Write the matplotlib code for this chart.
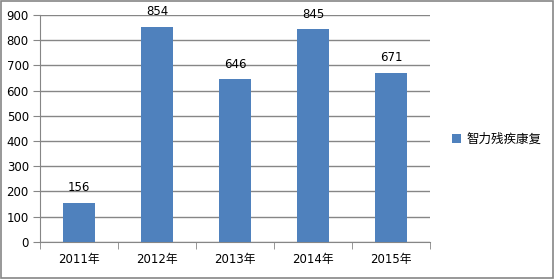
import matplotlib.pyplot as plt
import numpy as np

plt.rcParams['font.family'] = ['DejaVu Sans', 'Noto Sans CJK SC']

# 数据
years = ["2011年", "2012年", "2013年", "2014年", "2015年"]
values = [156, 854, 646, 845, 671]
series_name = "智力残疾康复"

bar_color = "#4F81BD"
grid_color = "#868686"

fig = plt.figure(figsize=(5.55, 2.79), dpi=100)
ax = fig.add_axes([0.072, 0.133, 0.703, 0.813])

x = np.arange(len(years))
bars = ax.bar(x, values, width=0.41, color=bar_color, label=series_name, zorder=3)

# 数据标签
for xi, v in zip(x, values):
    ax.annotate(str(v), (xi, v), xytext=(0, 6), textcoords="offset points",
                ha="center", va="bottom", fontsize=8.5, zorder=4)

ax.set_xlim(-0.5, len(years) - 0.5)
ax.set_ylim(0, 900)
ax.set_yticks(range(0, 901, 100))
ax.grid(axis="y", color=grid_color, linewidth=1, zorder=0)

# 横轴刻度：分类边界处的刻度线
ax.set_xticks(x)
ax.set_xticklabels(years, fontsize=8.5)
ax.set_xticks(np.arange(-0.5, len(years) + 0.5, 1), minor=True)
ax.tick_params(axis="x", which="major", length=0, pad=8)
ax.tick_params(axis="x", which="minor", length=5, color=grid_color, direction="out")
ax.tick_params(axis="y", length=5, color=grid_color, labelsize=8.5, pad=3)

for side in ["top", "right"]:
    ax.spines[side].set_visible(False)
ax.spines["left"].set_color(grid_color)
ax.spines["bottom"].set_color(grid_color)

# 图例
fig.legend(handles=[bars], labels=[series_name], loc="center left",
           bbox_to_anchor=(0.795, 0.5), frameon=False, fontsize=9,
           handlelength=0.7, handleheight=0.7, handletextpad=0.4)

# 外边框
fig.patches.append(plt.Rectangle((0.002, 0.004), 0.995, 0.992, transform=fig.transFigure,
                                 fill=False, edgecolor=grid_color, linewidth=1.2))

plt.savefig("out.png", dpi=100)
